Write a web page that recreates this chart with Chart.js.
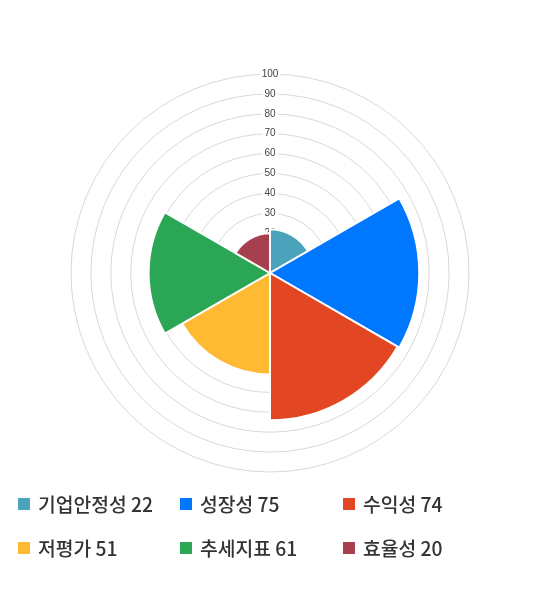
<!DOCTYPE html>
<html>
<head>
<meta charset="utf-8">
<script src="https://cdn.jsdelivr.net/npm/chart.js@4"></script>
<style>
  html, body { margin: 0; padding: 0; background: #fff; }
  body { width: 540px; height: 590px; position: relative; overflow: hidden; }
  #wrap { position: absolute; left: 0; top: 0; width: 540px; height: 546px; }
  #legend { position: absolute; left: 0; top: 486px; width: 540px; font-family: "Noto Sans CJK KR", "Noto Sans", sans-serif; font-size: 19.3px; font-weight: 500; color: #333; }
  .item { position: absolute; display: flex; align-items: center; white-space: nowrap; height: 36px; }
  .sw { width: 12px; height: 12px; margin-right: 8px; }
</style>
</head>
<body>
<div id="wrap"><canvas id="c"></canvas></div>
<div id="legend"></div>
<script>
const categories = ["기업안정성", "성장성", "수익성", "저평가", "추세지표", "효율성"];
const scores = [22, 75, 74, 51, 61, 20];
const colors = ["#4AA3BA", "#0077FF", "#E24623", "#FFBA34", "#2BA654", "#A6404E"];
const tickMin = 0, tickMax = 100, tickStep = 10;

const ctx = document.getElementById('c');
new Chart(ctx, {
  type: 'polarArea',
  data: {
    labels: categories,
    datasets: [{
      data: scores,
      backgroundColor: colors,
      borderColor: '#ffffff',
      borderWidth: 2
    }]
  },
  options: {
    responsive: true,
    maintainAspectRatio: false,
    animation: false,
    layout: { padding: { left: 64, right: 64, top: 67, bottom: 67 } },
    plugins: { legend: { display: false }, tooltip: { enabled: false } },
    scales: {
      r: {
        min: tickMin,
        max: tickMax,
        ticks: {
          stepSize: tickStep,
          font: { family: "Liberation Sans, Arial, sans-serif", size: 10 },
          color: '#444',
          backdropColor: '#ffffff',
          backdropPadding: 2,
          z: 0
        },
        grid: { color: '#d8d8d8', lineWidth: 1 },
        angleLines: { display: false },
        pointLabels: { display: false }
      }
    }
  }
});

const legend = document.getElementById('legend');
const colX = [18, 180, 343];
const rowY = [0, 44];
categories.forEach((name, i) => {
  const d = document.createElement('div');
  d.className = 'item';
  d.style.left = colX[i % 3] + 'px';
  d.style.top = rowY[Math.floor(i / 3)] + 'px';
  const sw = document.createElement('span');
  sw.className = 'sw';
  sw.style.background = colors[i];
  const t = document.createElement('span');
  t.textContent = name + ' ' + scores[i];
  d.appendChild(sw);
  d.appendChild(t);
  legend.appendChild(d);
});
</script>
</body>
</html>
